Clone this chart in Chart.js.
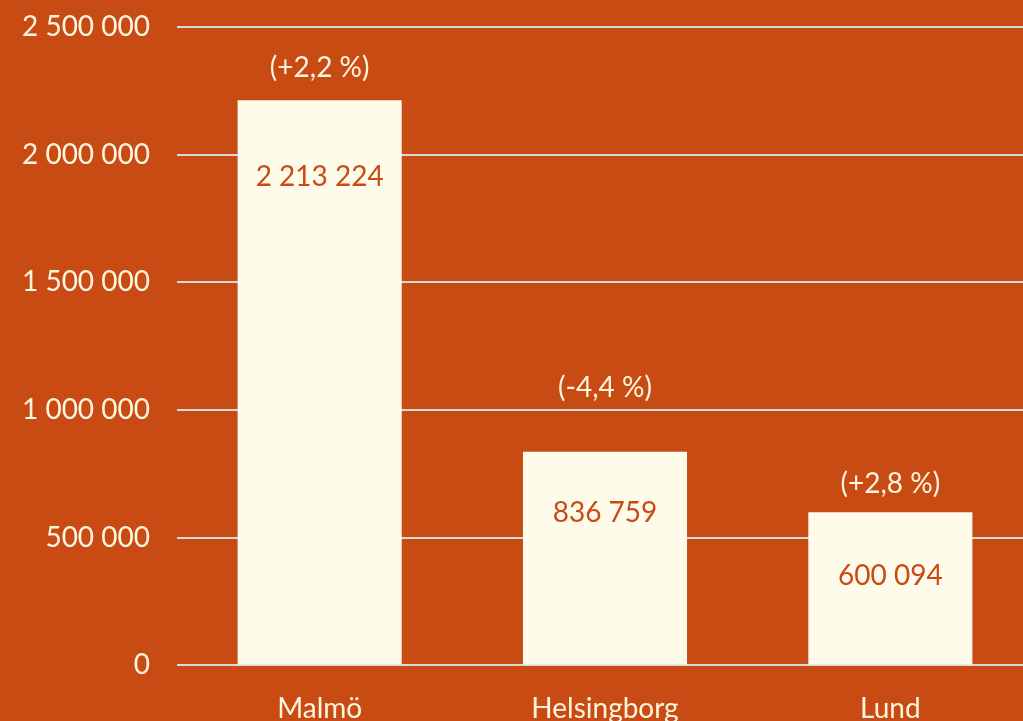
<!DOCTYPE html>
<html>
<head>
<meta charset="utf-8">
<script src="https://cdn.jsdelivr.net/npm/chart.js@4"></script>
<style>
  html, body { margin: 0; padding: 0; background: #C84B14; overflow: hidden; }
  #wrap { position: relative; width: 1033px; height: 721px; }
</style>
</head>
<body>
<div id="wrap"><canvas id="chart"></canvas></div>
<script>
const cities = ['Malmö', 'Helsingborg', 'Lund'];
const passengers = [2213224, 836759, 600094];
const changeLabels = ['(+2,2 %)', '(-4,4 %)', '(+2,8 %)'];
const yMax = 2500000;
const yStep = 500000;

const bg = '#C84B14';
const cream = '#FFFBEB';
const textCream = '#FFF5DE';
const font = 'Lato';

function formatNumber(n) {
    return String(n).replace(/\B(?=(\d{3})+(?!\d))/g, ' ');
}

// draws the value inside each bar and the change above it
const barLabels = {
    id: 'barLabels',
    afterDatasetsDraw(chart, args, opts) {
        const ctx = chart.ctx;
        const meta = chart.getDatasetMeta(0);
        ctx.save();
        ctx.font = '28px ' + font;
        ctx.textAlign = 'center';
        ctx.textBaseline = 'middle';
        meta.data.forEach((bar, i) => {
            ctx.fillStyle = bg;
            ctx.fillText(formatNumber(passengers[i]), bar.x, bar.y + opts.inside[i]);
            ctx.fillStyle = textCream;
            ctx.fillText(changeLabels[i], bar.x, bar.y - opts.above[i]);
        });
        ctx.restore();
    }
};

const ctx = document.getElementById('chart').getContext('2d');
new Chart(ctx, {
    type: 'bar',
    data: {
        labels: cities,
        datasets: [{
            data: passengers,
            backgroundColor: cream,
            borderWidth: 0,
            categoryPercentage: 1,
            barPercentage: 0.575
        }]
    },
    options: {
        responsive: true,
        maintainAspectRatio: false,
        animation: false,
        layout: {
            padding: {top: 8, right: 0, bottom: -32, left: 0}
        },
        scales: {
            x: {
                grid: {display: false, drawTicks: false},
                border: {display: false},
                ticks: {
                    color: textCream,
                    font: {family: font, size: 28},
                    padding: 27
                }
            },
            y: {
                min: 0,
                max: yMax,
                afterFit(scale) { scale.width = 177; },
                grid: {color: '#D9D9D9', lineWidth: 2, drawTicks: false},
                border: {display: false},
                ticks: {
                    stepSize: yStep,
                    color: textCream,
                    padding: 27,
                    font: {family: font, size: 28, lineHeight: 0.01},
                    callback: (v) => formatNumber(v)
                }
            }
        },
        plugins: {
            legend: {display: false},
            tooltip: {enabled: false},
            barLabels: {
                inside: [77, 61, 64],
                above: [32, 64, 28]
            }
        }
    },
    plugins: [barLabels]
});
</script>
</body>
</html>
